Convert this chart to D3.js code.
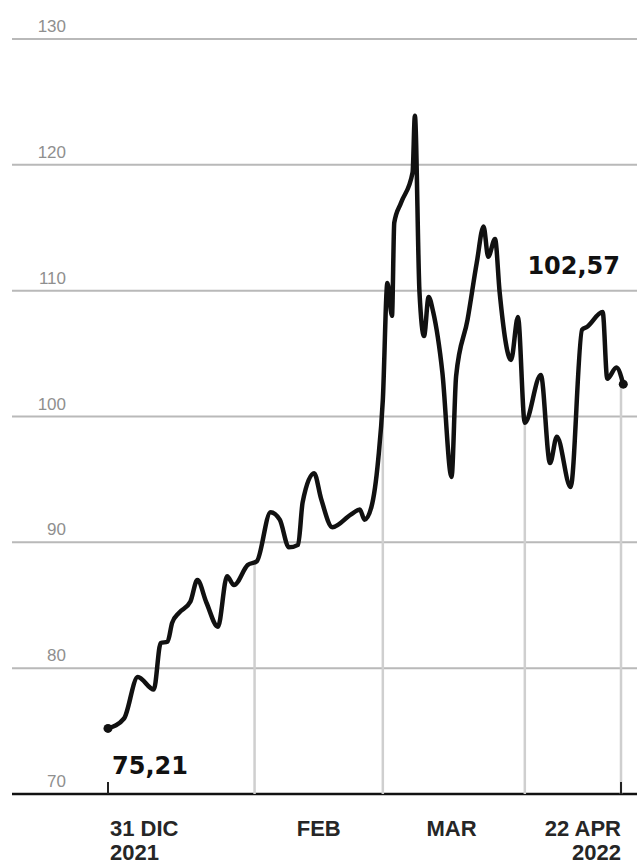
<!DOCTYPE html>
<html>
<head>
<meta charset="utf-8">
<script src="https://cdn.jsdelivr.net/npm/d3@7"></script>
<style>
  body { margin: 0; background: #fff; }
  svg { display: block; }
  .yLabel { font-family: "Liberation Sans", sans-serif; font-size: 17px; fill: #8f8f8f; }
  .xLabel { font-family: "Liberation Sans", sans-serif; font-size: 22px; font-weight: bold; fill: #262626; }
  .valLabel { font-family: "DejaVu Sans", sans-serif; font-size: 24px; font-weight: bold; fill: #111; }
</style>
</head>
<body>
<div id="chart"></div>
<script>
// ****************************************************
// data
var dates = [
  "2021-12-31T00", "2022-01-03T12", "2022-01-06T12", "2022-01-10T00", "2022-01-11T12",
  "2022-01-13T00", "2022-01-14T00", "2022-01-15T12", "2022-01-18T00", "2022-01-19T12",
  "2022-01-21T12", "2022-01-24T00", "2022-01-26T00", "2022-01-27T12", "2022-01-30T12",
  "2022-02-01T12", "2022-02-04T12", "2022-02-06T12", "2022-02-08T12", "2022-02-10T12",
  "2022-02-11T12", "2022-02-14T00", "2022-02-15T12", "2022-02-18T00", "2022-02-22T00",
  "2022-02-24T00", "2022-02-25T00", "2022-02-26T12", "2022-02-28T00", "2022-03-01T00",
  "2022-03-02T00", "2022-03-03T00", "2022-03-03T12", "2022-03-05T00", "2022-03-07T12",
  "2022-03-08T00", "2022-03-09T00", "2022-03-10T00", "2022-03-11T00", "2022-03-12T00",
  "2022-03-14T00", "2022-03-16T00", "2022-03-17T00", "2022-03-19T12", "2022-03-21T12",
  "2022-03-23T00", "2022-03-24T00", "2022-03-25T12", "2022-03-26T12", "2022-03-29T00",
  "2022-03-30T12", "2022-04-01T00", "2022-04-04T12", "2022-04-06T12", "2022-04-08T00",
  "2022-04-11T00", "2022-04-13T12", "2022-04-14T12", "2022-04-18T00", "2022-04-19T00",
  "2022-04-21T00", "2022-04-22T12"
];

var prices = [
  75.21, 76.0, 79.3, 78.3, 82.0,
  82.1, 83.6, 84.4, 85.3, 87.0,
  85.2, 83.3, 87.3, 86.6, 88.2,
  88.5, 92.4, 91.8, 89.6, 89.8,
  93.2, 95.5, 93.5, 91.2, 92.2,
  92.6, 91.8, 92.8, 96.6, 101.3,
  110.6, 108.0, 115.4, 117.0, 119.4,
  123.9, 109.9, 106.4, 109.5, 108.3,
  103.5, 95.2, 103.2, 107.7, 112.2,
  115.1, 112.7, 114.1, 109.9, 104.5,
  107.9, 99.5, 103.3, 96.3, 98.4,
  94.4, 106.9, 107.1, 108.3, 103.0,
  103.9, 102.57
];

var yTicks = [70, 80, 90, 100, 110, 120, 130];

var gridDates = ["2022-02-01T00", "2022-03-01T00", "2022-04-01T00", "2022-04-22T00"];

var xTickDates = ["2021-12-31T00", "2022-02-15T00", "2022-03-16T00", "2022-04-22T00"];
var xTickLines = [["31 DIC", "2021"], ["FEB"], ["MAR"], ["22 APR", "2022"]];

var firstLabel = "75,21";
var lastLabel = "102,57";

// ****************************************************
// svg area
var svgWidth = 637;
var svgHeight = 866;
var gridLeft = 12;

var parseTime = d3.timeParse("%Y-%m-%dT%H");

var series = dates.map(function(d, i) {
  return { date: parseTime(d), value: prices[i] };
});

var svg = d3.select("#chart")
  .append("svg")
  .attr("width", svgWidth)
  .attr("height", svgHeight);

svg.append("rect")
  .attr("width", svgWidth)
  .attr("height", svgHeight)
  .attr("fill", "#fff");

// scales
var xScale = d3.scaleTime()
  .domain([parseTime("2021-12-31T00"), parseTime("2022-04-22T00")])
  .range([108, 621]);

var yScale = d3.scaleLinear()
  .domain([70, 130])
  .range([794, 39]);

// ****************************************************
// horizontal grid lines + labels
var yGrid = svg.append("g").attr("class", "yGrid");

yGrid.selectAll("line")
  .data(yTicks)
  .enter()
  .append("line")
  .attr("x1", gridLeft)
  .attr("x2", svgWidth)
  .attr("y1", function(d) { return yScale(d); })
  .attr("y2", function(d) { return yScale(d); })
  .attr("stroke", function(d) { return d === 70 ? "#111" : "#b9b9b9"; })
  .attr("stroke-width", function(d) { return d === 70 ? 2.5 : 2; });

yGrid.selectAll("text")
  .data(yTicks)
  .enter()
  .append("text")
  .attr("class", "yLabel")
  .attr("x", 66)
  .attr("y", function(d) { return yScale(d) - 7; })
  .attr("text-anchor", "end")
  .text(function(d) { return d; });

// ****************************************************
// vertical grid lines only below the curve
var area = d3.area()
  .x(function(d) { return xScale(d.date); })
  .y0(yScale(70))
  .y1(function(d) { return yScale(d.value); })
  .curve(d3.curveMonotoneX);

svg.append("clipPath")
  .attr("id", "underCurve")
  .append("path")
  .datum(series)
  .attr("d", area);

svg.append("g")
  .attr("clip-path", "url(#underCurve)")
  .selectAll("line")
  .data(gridDates)
  .enter()
  .append("line")
  .attr("x1", function(d) { return xScale(parseTime(d)); })
  .attr("x2", function(d) { return xScale(parseTime(d)); })
  .attr("y1", yScale(70))
  .attr("y2", yScale(130))
  .attr("stroke", "#cfcfcf")
  .attr("stroke-width", 2.5);

// small ticks on the axis at start and end
svg.append("g")
  .selectAll("line")
  .data([xTickDates[0], xTickDates[3]])
  .enter()
  .append("line")
  .attr("x1", function(d) { return xScale(parseTime(d)); })
  .attr("x2", function(d) { return xScale(parseTime(d)); })
  .attr("y1", yScale(70))
  .attr("y2", yScale(70) - 12)
  .attr("stroke", "#222")
  .attr("stroke-width", 2);

// ****************************************************
// x labels
var xText = svg.append("g").attr("class", "xText");

xTickDates.forEach(function(d, i) {
  var anchor = i === 0 ? "start" : (i === xTickDates.length - 1 ? "end" : "middle");
  var tx = xScale(parseTime(d)) + (i === 0 ? 2 : 0);
  var t = xText.append("text")
    .attr("class", "xLabel")
    .attr("text-anchor", anchor)
    .attr("x", tx)
    .attr("y", 836);
  xTickLines[i].forEach(function(s, j) {
    t.append("tspan")
      .attr("x", tx)
      .attr("dy", j === 0 ? 0 : 24)
      .text(s);
  });
});

// ****************************************************
// the line
var line = d3.line()
  .x(function(d) { return xScale(d.date); })
  .y(function(d) { return yScale(d.value); })
  .curve(d3.curveMonotoneX);

svg.append("path")
  .datum(series)
  .attr("d", line)
  .attr("fill", "none")
  .attr("stroke", "#111")
  .attr("stroke-width", 4.5)
  .attr("stroke-linejoin", "round")
  .attr("stroke-linecap", "round");

var ends = [series[0], series[series.length - 1]];

svg.selectAll("circle.endDot")
  .data(ends)
  .enter()
  .append("circle")
  .attr("class", "endDot")
  .attr("cx", function(d) { return xScale(d.date); })
  .attr("cy", function(d) { return yScale(d.value); })
  .attr("r", 4.5)
  .attr("fill", "#111");

// value labels
svg.append("text")
  .attr("class", "valLabel")
  .attr("x", xScale(ends[0].date) + 4)
  .attr("y", 774)
  .text(firstLabel);

svg.append("text")
  .attr("class", "valLabel")
  .attr("text-anchor", "end")
  .attr("x", 620)
  .attr("y", 274)
  .text(lastLabel);
</script>
</body>
</html>
